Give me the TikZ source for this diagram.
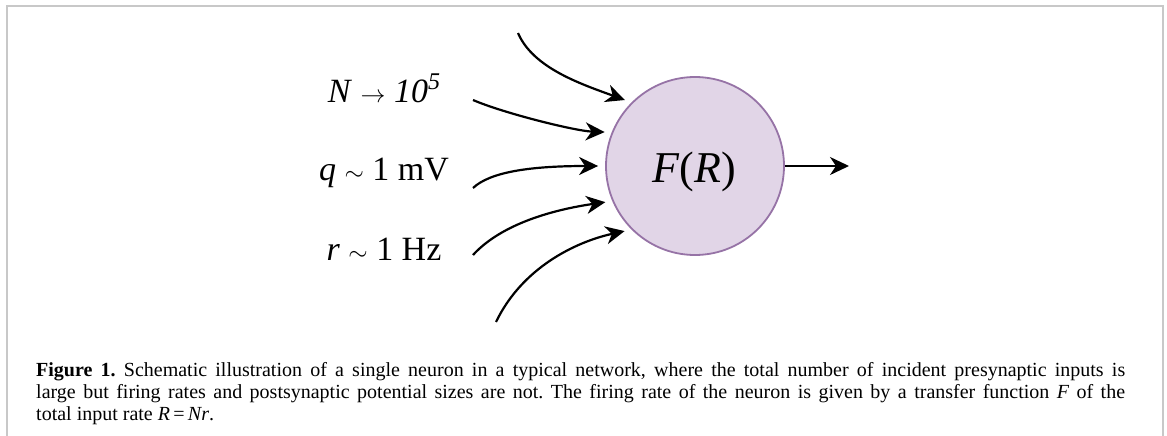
\documentclass[tikz,border=0pt]{standalone}
\usepackage{fontspec}
\setmainfont{Liberation Serif}
\usetikzlibrary{arrows.meta}
\definecolor{nfill}{HTML}{E1D5E7}
\definecolor{nline}{HTML}{9673A6}
\definecolor{framegray}{HTML}{C8C8C8}
\tikzset{
  syn/.style={line width=2.2pt,-{Stealth[length=19pt,width=18pt,inset=6pt]},shorten >=7pt},
  outarrow/.style={line width=2.2pt,-{Stealth[length=19pt,width=18pt,inset=6pt]}},
  neuron/.style={circle,draw=nline,fill=nfill,line width=1.8pt,minimum size=178pt,inner sep=0pt},
  lbl/.style={anchor=base,inner sep=0pt,font=\fontsize{34}{40}\selectfont},
}
\begin{document}
\begin{tikzpicture}[x=1pt,y=-1pt]
\useasboundingbox (0,0) rectangle (1167,436);
% frame
\draw[framegray,line width=2pt] (7,436) -- (7,6) -- (1163,6) -- (1163,436);
% neuron
\node[neuron] (c) at (695,166) {};
\node[anchor=base,inner sep=0pt,font=\fontsize{44}{50}\selectfont] (fr) at (694,182) {\textit{F}(\textit{R})};
% labels
\node[lbl] (lN) at (384,102) {\textit{N} $\rightarrow$ \textit{10}\raisebox{13pt}{\fontsize{24}{24}\selectfont\textit{5}}};
\node[lbl] (lq) at (384,180) {\textit{q} $\sim$ 1 mV};
\node[lbl] (lr) at (384,260) {\textit{r} $\sim$ 1 Hz};
% input start points
\coordinate (s1) at (518,33);
\coordinate (s2) at (473,100);
\coordinate (s3) at (473,188);
\coordinate (s4) at (473,255);
\coordinate (s5) at (496,322);
\coordinate (o) at (849,166);
% input arrows
\draw[syn] (s1) .. controls (533,68) and (581,84) .. (c.135);
\draw[syn] (s2) .. controls (503,113) and (575,131) .. (c.158);
\draw[syn] (s3) .. controls (490,172) and (530,166) .. (c.180);
\draw[syn] (s4) .. controls (505,220) and (565,208) .. (c.203);
\draw[syn] (s5) .. controls (522,268) and (575,242) .. (c.225);
% output
\draw[outarrow] (c.east) -- (o);
% caption
\node[anchor=north west,inner sep=0pt,text width=1089pt,align=justify,
      font=\fontsize{20}{22}\selectfont] (cap) at (36,362.3)
{\frenchspacing\tolerance=10000\emergencystretch=20pt
\textbf{Figure 1.} Schematic illustration of a single neuron in a typical network, where the total number of incident presynaptic inputs is\linebreak
large but firing rates and postsynaptic potential sizes are not. The firing rate of the neuron is given by a transfer function \textit{F} of the\linebreak
total input rate \textit{R}\,=\,\textit{Nr}.};
\end{tikzpicture}
\end{document}
